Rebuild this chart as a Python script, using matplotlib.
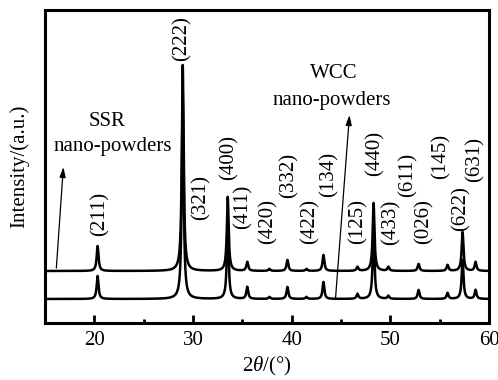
import numpy as np
import matplotlib
matplotlib.use("Agg")
import matplotlib.pyplot as plt

plt.rcParams['font.family'] = ['Liberation Serif', 'DejaVu Serif']
plt.rcParams['mathtext.fontset'] = 'custom'
plt.rcParams['mathtext.rm'] = 'Liberation Serif'
plt.rcParams['mathtext.it'] = 'Liberation Serif:italic'

# ---- data ----
peak_pos = [20.33, 28.96, 33.52, 35.50, 37.75, 39.57, 41.50, 43.22, 46.67,
            48.30, 49.80, 52.86, 55.80, 57.32, 58.64]
wcc_heights = [23, 206, 74, 12, 2, 12, 2, 17, 5, 68, 3, 9, 6, 39, 9]
ssr_heights = [25, 206, 74, 9, 2, 11, 2, 16, 4, 68, 4, 7, 6, 39, 9]
wcc_baseline = 24
ssr_baseline = 52
peak_hwhm = 0.11

hkl_labels = ['(211)', '(222)', '(321)', '(400)', '(411)', '(420)', '(332)',
              '(422)', '(134)', '(125)', '(440)', '(433)', '(611)', '(026)',
              '(145)', '(622)', '(631)']
label_x = [20.61, 28.92, 30.85, 33.69, 35.11, 37.55, 39.68, 41.81, 43.83,
           46.77, 48.40, 50.02, 51.74, 53.37, 55.09, 57.12, 58.54]
label_y = [109, 284, 125, 165, 116, 101, 148, 101, 149, 101, 170, 101, 148,
           101, 167, 114, 163]

two_theta = np.linspace(15, 60, 4501)


def profile(heights, base):
    y = np.full_like(two_theta, float(base))
    for p, h in zip(peak_pos, heights):
        y += h * peak_hwhm**2 / ((two_theta - p)**2 + peak_hwhm**2)
    return y


fig = plt.figure(figsize=(4.98, 3.80), dpi=100)
ax = fig.add_axes([45/498, 1-323/380, (489-45)/498, (323-10)/380])

ax.plot(two_theta, profile(wcc_heights, wcc_baseline), color='black', lw=1.8)
ax.plot(two_theta, profile(ssr_heights, ssr_baseline), color='black', lw=1.8)

for t, x, y in zip(hkl_labels, label_x, label_y):
    ax.text(x, y, t, rotation=90, ha='center', va='center', fontsize=15)

ax.text(21.32, 202, 'SSR', ha='center', va='center', fontsize=15)
ax.text(21.83, 176, 'nano-powders', ha='center', va='center', fontsize=15)
ax.text(44.24, 249, 'WCC', ha='center', va='center', fontsize=15)
ax.text(44.04, 223, 'nano-powders', ha='center', va='center', fontsize=15)

arrow = dict(arrowstyle='-|>,head_width=0.18,head_length=0.6', color='black',
             lw=0.9, shrinkA=0, shrinkB=0)
ax.annotate('', xy=(16.86, 156), xytext=(16.15, 55), arrowprops=arrow)
ax.annotate('', xy=(45.86, 208), xytext=(44.44, 24), arrowprops=arrow)

ax.set_xlim(15, 60)
ax.set_ylim(0, 313)
ax.set_xticks([20, 30, 40, 50, 60])
ax.set_xticks([25, 35, 45, 55], minor=True)
ax.set_yticks([])
ax.tick_params(axis='x', which='major', direction='in', length=6, width=2,
               labelsize=15, pad=6)
ax.tick_params(axis='x', which='minor', direction='in', length=3, width=2)
for s in ax.spines.values():
    s.set_linewidth(2.2)

ax.set_xlabel(r'2$\it{\theta}$/(°)', fontsize=15, labelpad=3)
ax.set_ylabel('Intensity/(a.u.)', fontsize=15, labelpad=11)

fig.savefig('out.png', dpi=100)
